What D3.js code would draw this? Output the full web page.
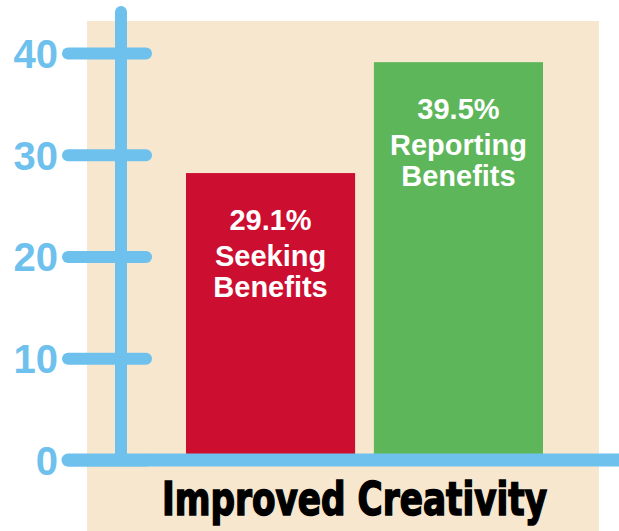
<!DOCTYPE html>
<html>
<head>
<meta charset="utf-8">
<script src="https://cdn.jsdelivr.net/npm/d3@7"></script>
<style>
  html, body { margin: 0; padding: 0; background: #fff; }
  svg { display: block; }
</style>
</head>
<body>
<div id="chart"></div>
<script>
/* ── data ── */
const categories = ['Seeking', 'Reporting'];
const barValues  = [28.2, 39.1];               // bar heights
const barLabels  = [['29.1%', 'Seeking', 'Benefits'], ['39.5%', 'Reporting', 'Benefits']];
const barColors  = ['#cc0e31', '#5eb65a'];
const yTicks     = [0, 10, 20, 30, 40];
const title      = 'Improved Creativity';

/* ── layout ── */
const W = 619, H = 531;
const blue = '#6ec1ed';
const beige = '#f8e7cf';
const lineSteps = [0, 36, 31];

const svg = d3.select('#chart').append('svg')
  .attr('width', W).attr('height', H);

// panel background
svg.append('rect')
  .attr('x', 87).attr('y', 21)
  .attr('width', 512).attr('height', H - 21)
  .attr('fill', beige);

const yScale = d3.scaleLinear().domain([0, 40]).range([460, 53]);
const xScale = d3.scaleBand().domain(categories).range([186, 543]).paddingInner(0.1);

// bars
svg.append('g').selectAll('rect')
  .data(categories)
  .join('rect')
    .attr('x', d => xScale(d))
    .attr('width', xScale.bandwidth())
    .attr('y', (d, i) => yScale(barValues[i]))
    .attr('height', (d, i) => yScale(0) - yScale(barValues[i]))
    .attr('fill', (d, i) => barColors[i]);

// bar labels
const lbl = svg.append('g').selectAll('text')
  .data(categories)
  .join('text')
    .attr('x', d => xScale(d) + xScale.bandwidth() / 2)
    .attr('y', (d, i) => yScale(barValues[i]) + 57)
    .attr('text-anchor', 'middle')
    .attr('fill', '#fff')
    .attr('font-family', 'Liberation Sans, Arial, sans-serif')
    .attr('font-weight', 'bold')
    .attr('font-size', 29);
lbl.selectAll('tspan')
  .data((d, i) => barLabels[i])
  .join('tspan')
    .attr('x', function () { return this.parentNode.getAttribute('x'); })
    .attr('dy', (d, j) => lineSteps[j])
    .text(d => d);

// x axis baseline
svg.append('line')
  .attr('x1', 68).attr('x2', W + 20)
  .attr('y1', yScale(0)).attr('y2', yScale(0))
  .attr('stroke', blue).attr('stroke-width', 13)
  .attr('stroke-linecap', 'round');

// y axis spine
svg.append('line')
  .attr('x1', 121).attr('x2', 121)
  .attr('y1', 12).attr('y2', yScale(0))
  .attr('stroke', blue).attr('stroke-width', 12)
  .attr('stroke-linecap', 'round');

// y axis ticks + labels
const yAxis = svg.append('g')
  .attr('transform', 'translate(121,0)')
  .call(d3.axisLeft(yScale).tickValues(yTicks).tickSize(53).tickPadding(10));
yAxis.select('.domain').remove();
yAxis.selectAll('.tick line')
  .attr('x1', 25)
  .attr('stroke', blue).attr('stroke-width', 12)
  .attr('stroke-linecap', 'round');
yAxis.selectAll('.tick text')
  .attr('fill', blue)
  .attr('font-family', 'Liberation Sans, Arial, sans-serif')
  .attr('font-weight', 'bold')
  .attr('font-size', 40)
  .attr('dy', '0.36em');

// category title
svg.append('text')
  .attr('x', 162).attr('y', 515)
  .attr('textLength', 385)
  .attr('lengthAdjust', 'spacingAndGlyphs')
  .attr('fill', '#000').attr('stroke', '#000').attr('stroke-width', 1.5)
  .attr('font-family', 'Liberation Sans Narrow, DejaVu Sans Condensed, sans-serif')
  .attr('font-weight', 'bold')
  .attr('font-size', 46)
  .text(title);
</script>
</body>
</html>
